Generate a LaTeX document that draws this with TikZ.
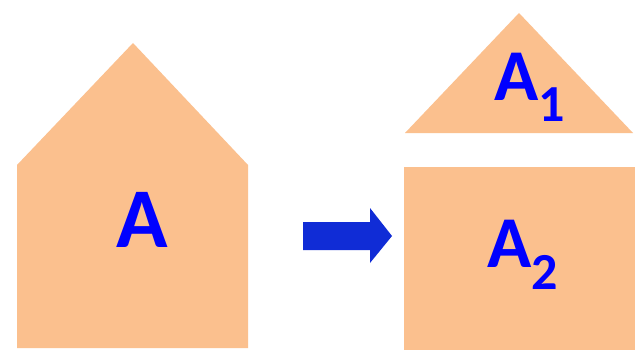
\documentclass[tikz,border=0pt]{standalone}
\usepackage{fontspec}
\setmainfont{Carlito}
\definecolor{peach}{RGB}{251,192,142}
\definecolor{labelblue}{RGB}{0,0,255}
\definecolor{arrowblue}{RGB}{16,44,214}
\tikzset{
  part/.style={fill=peach, draw=none},
  lbl/.style={text=labelblue, font=\bfseries, inner sep=0pt, anchor=base west},
}
\newcommand{\bigA}[1]{\fontsize{#1}{#1}\selectfont A}
\newcommand{\subdigit}[3]{\raisebox{-#2pt}{\fontsize{#1}{#1}\selectfont #3}}
\begin{document}
\begin{tikzpicture}[x=1pt,y=-1pt]
  \fill[white] (0,0) rectangle (637,353);
  \useasboundingbox (0,0) rectangle (637,353);
  % whole shape
  \fill[part] (17,165) -- (133,43) -- (248,165) -- (248,348) -- (17,348) -- cycle;
  \node[lbl] (a) at (116,247) {\bigA{85}};
  % arrow
  \fill[arrowblue] (303,222) -- (370,222) -- (370,208) -- (392,236)
    -- (370,263) -- (370,250) -- (303,250) -- cycle;
  % upper piece
  \fill[part] (405,133) -- (519,13) -- (633,133) -- cycle;
  \node[lbl] (a1) at (494,100) {\bigA{73}\subdigit{52}{21}{1}};
  % lower piece
  \fill[part] (404,167) rectangle (635,350);
  \node[lbl] (a2) at (487,267) {\bigA{73}\subdigit{52}{22}{2}};
\end{tikzpicture}
\end{document}
